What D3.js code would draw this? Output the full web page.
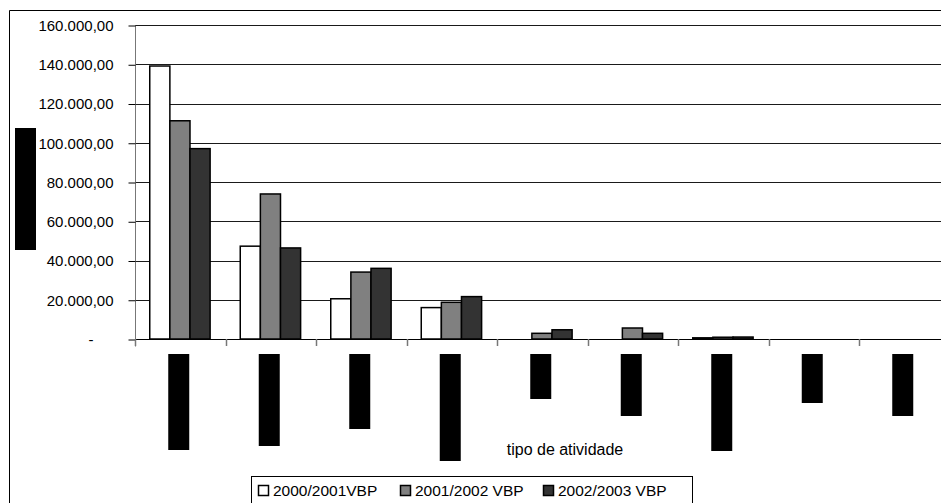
<!DOCTYPE html>
<html>
<head>
<meta charset="utf-8">
<script src="https://cdn.jsdelivr.net/npm/d3@7/dist/d3.min.js"></script>
<style>
  html, body { margin: 0; padding: 0; background: #fff; }
  svg { display: block; font-family: "Liberation Sans", Arial, sans-serif; }
</style>
</head>
<body>
<svg id="chart" width="941" height="503"></svg>
<script>
// Activity types (one group of bars per type)
const categories = ["t1", "t2", "t3", "t4", "t5", "t6", "t7", "t8", "t9"];
// Harvest seasons shown in the legend
const seasons = ["2000/2001VBP", "2001/2002 VBP", "2002/2003 VBP"];
// Gross production value per activity type, one array per season
const vbp2000 = [139100, 47300, 20500, 16000, 0, 0, 600, 0, 0];
const vbp2001 = [111200, 73900, 34100, 18700, 2900, 5600, 900, 0, 0];
const vbp2002 = [97000, 46400, 36000, 21600, 4700, 2900, 1000, 0, 0];
// Y axis ticks
const yTicks = [0, 20000, 40000, 60000, 80000, 100000, 120000, 140000, 160000];
const yTickLabels = ["-", "20.000,00", "40.000,00", "60.000,00", "80.000,00",
  "100.000,00", "120.000,00", "140.000,00", "160.000,00"];
const xTitle = "tipo de atividade";

// Layout
const fills = ["#ffffff", "#808080", "#333333"];
const labelBoxLen = [96, 92, 75, 107, 45, 62, 97, 49, 62];
const series = [vbp2000, vbp2001, vbp2002];

const svg = d3.select("#chart");

// outer frame
svg.append("path")
  .attr("d", "M9.5,503 V10.5 H941")
  .attr("fill", "none").attr("stroke", "#000").attr("stroke-width", 1);

const x0 = d3.scaleBand().domain(categories).range([135, 135 + 9 * 90.5]).padding(0);
const x1 = d3.scaleBand().domain(d3.range(seasons.length))
  .range([x0.bandwidth() * 0.163, x0.bandwidth() * 0.83]).padding(0);
const y = d3.scaleLinear().domain([0, 160000]).range([339, 25]);

// gridlines
svg.append("g").selectAll("line").data(yTicks.filter(d => d > 0)).join("line")
  .attr("x1", 135).attr("x2", 941)
  .attr("y1", d => Math.round(y(d)) + 0.5).attr("y2", d => Math.round(y(d)) + 0.5)
  .attr("stroke", "#1a1a1a").attr("stroke-width", 1);

// y axis
const yAxis = d3.axisLeft(y).tickValues(yTicks)
  .tickFormat((d, i) => yTickLabels[i]).tickSize(7).tickPadding(15);
const gy = svg.append("g").attr("transform", "translate(135.5,0.5)").call(yAxis);
gy.select(".domain").attr("stroke", "#777").attr("d", "M0,25V346");
gy.selectAll(".tick line").attr("stroke", "#000");
gy.selectAll(".tick text").attr("font-size", 15).attr("fill", "#000")
  .attr("font-family", "'Liberation Sans', Arial, sans-serif")
  .attr("dx", (d, i) => yTickLabels[i] === "-" ? -20 : 0);

// x axis line and category boundary ticks
svg.append("line").attr("x1", 135).attr("x2", 941)
  .attr("y1", y(0) + 0.5).attr("y2", y(0) + 0.5).attr("stroke", "#000");
svg.append("g").selectAll("line").data(categories).join("line")
  .attr("x1", d => Math.round(x0(d)) + 0.5).attr("x2", d => Math.round(x0(d)) + 0.5)
  .attr("y1", y(0)).attr("y2", y(0) + 7)
  .attr("stroke", "#777").attr("stroke-width", 1.5);

// bars
const groups = svg.append("g").selectAll("g").data(categories).join("g")
  .attr("transform", d => `translate(${x0(d)},0)`);
groups.selectAll("rect")
  .data((c, ci) => series.map((s, si) => ({ si, v: s[ci] })).filter(d => d.v > 0))
  .join("rect")
  .attr("x", d => x1(d.si))
  .attr("width", x1.bandwidth())
  .attr("y", d => y(d.v))
  .attr("height", d => y(0) - y(d.v))
  .attr("fill", d => fills[d.si])
  .attr("stroke", "#000").attr("stroke-width", 1.5);

// category labels (solid vertical boxes below the axis)
svg.append("g").selectAll("rect").data(categories).join("rect")
  .attr("x", (d, i) => x0(d) + x0.bandwidth() / 2 - 12)
  .attr("y", 354)
  .attr("width", 21)
  .attr("height", (d, i) => labelBoxLen[i])
  .attr("fill", "#000");

// y axis title box
svg.append("rect").attr("x", 15).attr("y", 128).attr("width", 21).attr("height", 122)
  .attr("fill", "#000");

// x axis title
svg.append("text").attr("x", 565).attr("y", 455)
  .attr("text-anchor", "middle").attr("font-size", 16).attr("fill", "#000")
  .text(xTitle);

// legend
const lg = svg.append("g");
lg.append("rect").attr("x", 251.5).attr("y", 476.5).attr("width", 441).attr("height", 40)
  .attr("fill", "#fff").attr("stroke", "#000");
const swX = [258, 400, 543];
seasons.forEach((s, i) => {
  lg.append("rect").attr("x", swX[i] + 0.5).attr("y", 485.5).attr("width", 10).attr("height", 10)
    .attr("fill", fills[i]).attr("stroke", "#000").attr("stroke-width", 1.5);
  lg.append("text").attr("x", swX[i] + 15).attr("y", 496)
    .attr("font-size", 15.5).attr("fill", "#000").text(s);
});
</script>
</body>
</html>
